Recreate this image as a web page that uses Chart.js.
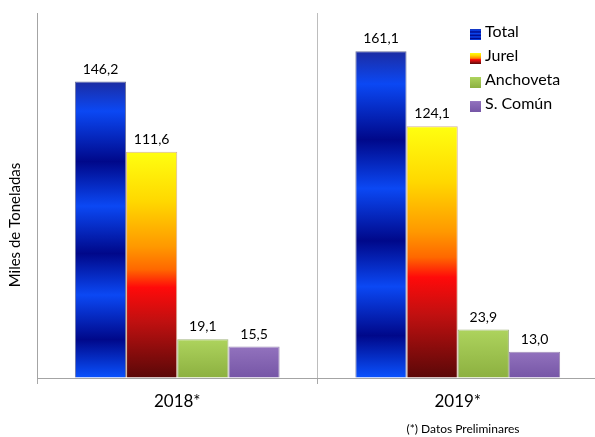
<!DOCTYPE html>
<html>
<head>
<meta charset="utf-8">
<script src="https://cdn.jsdelivr.net/npm/chart.js@4/dist/chart.umd.min.js"></script>
<style>
html,body{margin:0;padding:0;background:#fff;overflow:hidden;width:595px;height:437px;}
canvas{display:block;}
</style>
</head>
<body>
<canvas id="c" width="600" height="437"></canvas>
<script>
const categories = ['2018*', '2019*'];
const seriesNames = ['Total', 'Jurel', 'Anchoveta', 'S. Común'];
const totalValues = [146.2, 161.1];
const jurelValues = [111.6, 124.1];
const anchovetaValues = [19.1, 23.9];
const sComunValues = [15.5, 13.0];
const yTitle = 'Miles de Toneladas';
const footnote = '(*) Datos Preliminares';

const FONT = 'Lato, "Liberation Sans", sans-serif';

const gradStops = [
  [[0,'#1c2ca2'],[0.10,'#0b48f4'],[0.27,'#00088a'],[0.42,'#0b48f4'],[0.58,'#00088a'],[0.72,'#0b48f4'],[0.87,'#00088a'],[1,'#0a52ff']],
  [[0,'#ffff10'],[0.22,'#ffd800'],[0.42,'#ff9800'],[0.52,'#ff6800'],[0.6,'#ff0a0a'],[0.75,'#c01010'],[0.88,'#8a0c0c'],[1,'#5a0808']],
  [[0,'#c4e48a'],[0.04,'#acd25c'],[1,'#8cb040']],
  [[0,'#a88ad0'],[0.06,'#9070bc'],[1,'#7656a6']]
];
const solid = ['#0b48f4','#ff9800','#a0c850','#8466b4'];
const borders = ['rgba(10,20,90,0.6)','rgba(150,60,0,0.4)','rgba(100,130,40,0.6)','rgba(90,60,130,0.6)'];

function makeGrad(ctx, stops, y0, y1) {
  const g = ctx.createLinearGradient(0, y0, 0, y1);
  stops.forEach(s => g.addColorStop(s[0], s[1]));
  return g;
}

function barFill(i) {
  return function(context) {
    const chart = context.chart;
    if (!chart.chartArea || context.raw === undefined) return solid[i];
    const y = chart.scales.y;
    const top = y.getPixelForValue(context.raw);
    const base = y.getPixelForValue(0);
    if (!isFinite(top) || !isFinite(base) || base - top < 1) return solid[i];
    return makeGrad(chart.ctx, gradStops[i], top, base);
  };
}

const seriesData = [totalValues, jurelValues, anchovetaValues, sComunValues];

const labelsPlugin = {
  id: 'labelsPlugin',
  afterDatasetsDraw(chart) {
    const ctx = chart.ctx;
    ctx.save();
    ctx.font = '14px ' + FONT;
    ctx.fillStyle = '#000';
    ctx.textAlign = 'center';
    ctx.textBaseline = 'alphabetic';
    chart.data.datasets.forEach((ds, di) => {
      const meta = chart.getDatasetMeta(di);
      meta.data.forEach((el, i) => {
        const v = ds.data[i];
        ctx.fillText(v.toFixed(1).replace('.', ','), el.x, el.y - 8);
      });
    });
    // legend
    ctx.font = '16px ' + FONT;
    ctx.textAlign = 'left';
    const lx = 470, baseY = 37, step = 24;
    chart.data.datasets.forEach((ds, di) => {
      const by = baseY + di * step;
      const top = by - 8;
      ctx.fillStyle = makeGrad(ctx, gradStops[di], top, top + 11);
      ctx.fillRect(lx, top, 11, 11);
      ctx.fillStyle = '#000';
      ctx.fillText(ds.label, lx + 15, by);
    });
    // y title
    ctx.save();
    ctx.translate(15, 225);
    ctx.rotate(-Math.PI / 2);
    ctx.font = '15px ' + FONT;
    ctx.textAlign = 'center';
    ctx.textBaseline = 'middle';
    ctx.fillText(yTitle, 0, 0);
    ctx.restore();
    // footnote
    ctx.font = '12px ' + FONT;
    ctx.textAlign = 'center';
    ctx.textBaseline = 'middle';
    ctx.fillText(footnote, 463, 429);
    ctx.restore();
  }
};

new Chart(document.getElementById('c'), {
  type: 'bar',
  data: {
    labels: categories,
    datasets: seriesNames.map((name, i) => ({
      label: name,
      data: seriesData[i],
      backgroundColor: barFill(i),
      borderColor: borders[i],
      borderWidth: {left: 1, right: 1, top: 1, bottom: 0},
      borderSkipped: 'bottom',
      categoryPercentage: 0.73,
      barPercentage: 1.0
    }))
  },
  options: {
    responsive: false,
    animation: false,
    devicePixelRatio: 1,
    layout: {padding: {top: 13, left: 0, right: 2, bottom: 0}},
    plugins: {
      legend: {display: false},
      tooltip: {enabled: false}
    },
    scales: {
      x: {
        offset: true,
        grid: {
          display: true,
          offset: true,
          drawOnChartArea: true,
          drawTicks: true,
          tickLength: 6,
          color: '#bdbdbd',
          tickColor: '#a8a8a8',
          lineWidth: 1
        },
        border: {display: true, color: '#a4a4a4', width: 1},
        ticks: {
          font: {family: FONT, size: 17},
          color: '#000',
          padding: 7
        },
        afterFit(s) { s.height = 59; }
      },
      y: {
        min: 0,
        max: 180,
        grid: {display: true, drawOnChartArea: false, drawTicks: false},
        border: {display: true, color: '#a4a4a4', width: 1},
        ticks: {display: false},
        afterFit(s) { s.width = 37; }
      }
    }
  },
  plugins: [labelsPlugin]
});
</script>
</body>
</html>
